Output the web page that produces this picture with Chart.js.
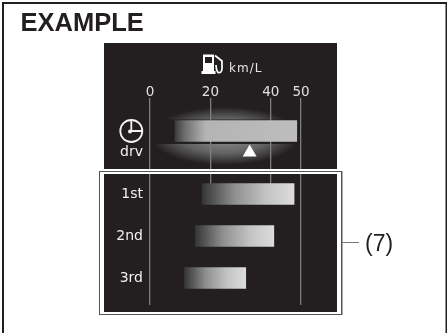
<!DOCTYPE html>
<html><head><meta charset="utf-8">
<style>html,body{margin:0;padding:0;background:#fff}canvas{display:block}</style>
<script src="https://cdn.jsdelivr.net/npm/chart.js@4/dist/chart.umd.min.js"></script>
</head><body><canvas id="c" width="447" height="333"></canvas>
<script>
const xTicks = [0, 20, 40, 50];
const rowLabels = ['drv', '1st', '2nd', '3rd'];
const rowPositions = [0, 1.5, 2.5, 3.5];
const labelPositions = [0.52, 1.5, 2.5, 3.5];
const barStart = [8.3, 17.3, 15, 11.4];
const barEnd = [48.6, 47.7, 41, 31.7];
const markerValue = [33];
const markerRow = [0.51];
const DARK = '#231f20';

const backdrop = {
  id: 'backdrop',
  beforeDraw(chart) {
    const c = chart.ctx;
    c.save();
    c.fillStyle = '#fff'; c.fillRect(0, 0, 447, 333);
    c.fillStyle = DARK;
    c.fillRect(2, 2, 445, 2); c.fillRect(2, 2, 2, 331); c.fillRect(445.5, 2, 1.5, 331);
    c.fillRect(104, 43, 233, 126);
    c.fillRect(104, 174, 233, 138);
    // halo behind the drv bar
    c.save();
    c.translate(225, 136); c.scale(75, 29);
    const g = c.createRadialGradient(0, 0, 0, 0, 0, 1);
    g.addColorStop(0, '#949494'); g.addColorStop(0.6, '#626262'); g.addColorStop(1, DARK);
    c.fillStyle = g; c.beginPath(); c.arc(0, 0, 1, 0, Math.PI * 2); c.fill();
    c.restore();
    c.fillStyle = DARK; c.fillRect(150, 119.5, 160, 24.5);
    // title
    c.fillStyle = DARK; c.font = 'bold 25.5px "Liberation Sans"'; c.textBaseline = 'alphabetic'; c.textAlign = 'left';
    c.fillText('EXAMPLE', 20.5, 31);
    c.restore();
  },
  beforeDatasetsDraw(chart) {
    const c = chart.ctx, x = chart.scales.x;
    c.save();
    c.fillStyle = DARK;
    [20, 40].forEach(v => c.fillRect(x.getPixelForValue(v) - 2, 184, 4, 122));
    c.fillStyle = '#fff'; c.fillRect(100, 169, 241, 5);
    c.strokeStyle = '#555'; c.lineWidth = 1; c.strokeRect(99.5, 171.5, 242, 143);
    c.strokeStyle = '#aaa'; c.beginPath(); c.moveTo(342.5, 171); c.lineTo(342.5, 315); c.stroke();
    c.restore();
  },
  afterDraw(chart) {
    const c = chart.ctx;
    c.save();
    // fuel icon
    c.fillStyle = '#fff'; c.fillRect(203, 54.5, 11, 19); c.fillRect(201.5, 71, 14, 3);
    c.fillStyle = DARK; c.fillRect(205, 57, 7, 6);
    c.strokeStyle = '#fff'; c.lineWidth = 1.7; c.beginPath();
    c.moveTo(215, 55.5); c.lineTo(222, 61); c.lineTo(222, 69); c.quadraticCurveTo(221.5, 73.5, 218, 72.5); c.quadraticCurveTo(216, 70, 216, 65); c.stroke();
    c.fillStyle = '#e6e6e6'; c.font = '12px "DejaVu Sans"'; c.textBaseline = 'middle'; c.textAlign = 'left';
    c.letterSpacing = '1px'; c.fillText('km/L', 229, 69); c.letterSpacing = '0px';
    // clock icon
    c.strokeStyle = '#f2f2f2'; c.lineWidth = 1.8;
    c.beginPath(); c.arc(131.3, 131, 11, 0, Math.PI * 2); c.stroke();
    c.beginPath(); c.moveTo(131.3, 120); c.lineTo(131.3, 131); c.lineTo(142.3, 131); c.stroke();
    c.fillStyle = '#f2f2f2'; c.beginPath(); c.arc(130, 131.5, 2, 0, Math.PI * 2); c.fill();
    // callout
    c.strokeStyle = '#777'; c.lineWidth = 1; c.beginPath(); c.moveTo(342, 242.5); c.lineTo(359, 242.5); c.stroke();
    c.fillStyle = DARK; c.font = '23px "Liberation Sans"'; c.textBaseline = 'alphabetic';
    c.fillText('(7)', 365, 251);
    c.restore();
  }
};

function barFill(ctx) {
  const i = ctx.dataIndex, x = ctx.chart.scales.x;
  if (!x || i === undefined) return '#aaa';
  const x0 = x.getPixelForValue(barStart[i]), x1 = x.getPixelForValue(barEnd[i]);
  if (!isFinite(x0) || !isFinite(x1)) return '#aaa';
  const g = ctx.chart.ctx.createLinearGradient(x0, 0, x1, 0);
  if (i === 0) {
    g.addColorStop(0, '#3c3c3c'); g.addColorStop(0.08, '#6e6e6e'); g.addColorStop(0.25, '#b4b4b4'); g.addColorStop(1, '#bdbdbd');
  } else {
    g.addColorStop(0, '#353535'); g.addColorStop(0.35, '#8f8f8f'); g.addColorStop(0.7, '#c4c4c4'); g.addColorStop(1, '#dcdcdc');
  }
  return g;
}

new Chart(document.getElementById('c'), {
  data: {
    datasets: [
      {
        type: 'bar',
        data: rowPositions.map((y, i) => ({ y, x: [barStart[i], barEnd[i]] })),
        backgroundColor: barFill,
        barThickness: 21,
        borderWidth: 0,
        order: 2
      },
      {
        type: 'scatter',
        data: markerValue.map((x, i) => ({ x, y: markerRow[i] })),
        pointStyle: 'triangle',
        pointRadius: 8,
        pointHoverRadius: 8,
        backgroundColor: '#fff',
        borderWidth: 0,
        order: 1
      }
    ]
  },
  options: {
    indexAxis: 'y',
    responsive: false,
    animation: false,
    events: [],
    layout: { padding: { left: 110, right: 146, top: 68, bottom: 28 } },
    plugins: { legend: { display: false }, tooltip: { enabled: false } },
    scales: {
      x: {
        type: 'linear', position: 'top', min: 0, max: 50, offset: false,
        afterBuildTicks: s => { s.ticks = xTicks.map(value => ({ value })); },
        afterFit: s => { s.height = 30; },
        ticks: { color: '#e0e0e0', font: { family: 'DejaVu Sans', size: 13.5 }, padding: -3, maxRotation: 0, autoSkip: false },
        grid: { color: '#7d7d7d', lineWidth: 1.3, drawTicks: false, tickLength: 0, offset: false },
        border: { display: false }
      },
      y: {
        type: 'linear', position: 'left', reverse: true, min: -0.786, max: 4.143, offset: false,
        afterBuildTicks: s => { s.ticks = labelPositions.map(value => ({ value })); },
        afterFit: s => { s.width = 40; },
        ticks: {
          color: '#f0f0f0', font: { family: 'DejaVu Sans', size: 14 }, padding: 7, autoSkip: false,
          callback: (v) => rowLabels[labelPositions.indexOf(v)]
        },
        grid: { display: false, drawTicks: false, offset: false },
        border: { display: false }
      }
    }
  },
  plugins: [backdrop]
});
</script></body></html>
